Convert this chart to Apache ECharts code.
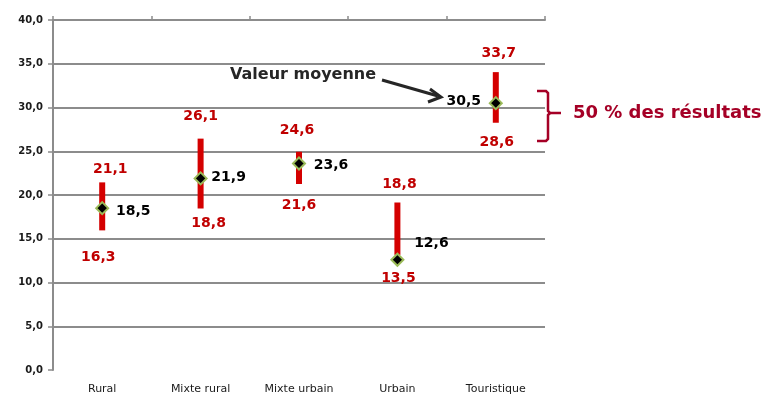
<!DOCTYPE html>
<html>
<head>
<meta charset="utf-8">
<script src="https://cdn.jsdelivr.net/npm/echarts@6/dist/echarts.min.js"></script>
<style>
	html, body { margin: 0; padding: 0; background: #fff; }
	#chart { width: 765px; height: 405px; }
</style>
</head>
<body>
<div id="chart"></div>
<script>
	// données
	var categories = ['Rural', 'Mixte rural', 'Mixte urbain', 'Urbain', 'Touristique'];
	var highValues = [21.1, 26.1, 24.6, 18.8, 33.7];
	var lowValues = [16.3, 18.8, 21.6, 13.5, 28.6];
	var meanValues = [18.5, 21.9, 23.6, 12.6, 30.5];
	var yTicks = [0, 5, 10, 15, 20, 25, 30, 35, 40];

	// décalages des étiquettes (px) comme dans le graphique Excel
	var highOffsets = [[8, -16], [0, -25], [-2, -24], [2, -21], [3, -22]];
	var lowOffsets = [[-4, 30], [8, 18], [0, 24], [1, 26], [1, 23]];
	var meanOffsets = [[31, 3], [28, -1], [32, 2], [34, -16], [-32, -2]];

	function fmt(v) {
		return v.toFixed(1).replace('.', ',');
	}

	var myChart = echarts.init(document.getElementById('chart'));

	var rangeData = [];
	var highData = [];
	var lowData = [];
	var meanData = [];
	for(var i = 0; i < categories.length; i++) {
		rangeData.push([i, lowValues[i], highValues[i]]);
		highData.push({
			value: [i, highValues[i]],
			label: { offset: highOffsets[i] }
		});
		lowData.push({
			value: [i, lowValues[i]],
			label: { offset: lowOffsets[i] }
		});
		meanData.push({
			value: [i, meanValues[i]],
			label: { offset: meanOffsets[i] }
		});
	}

	var redLabel = {
		show: true,
		position: 'inside',
		color: '#c00000',
		opacity: 1,
		fontFamily: 'DejaVu Sans',
		fontWeight: 'bold',
		fontSize: 14,
		formatter: function(p) { return fmt(p.value[1]); }
	};

	var option = {
		animation: false,
		backgroundColor: '#fff',
		grid: { left: 53, right: 220, top: 20, bottom: 35 },
		xAxis: [{
			type: 'category',
			position: 'top',
			data: categories,
			axisLine: { show: true, onZero: false, lineStyle: { color: '#8c8c8c', width: 2 } },
			axisTick: { show: true, length: 4, lineStyle: { color: '#8c8c8c', width: 1.5 } },
			axisLabel: { show: false }
		}, {
			type: 'category',
			position: 'bottom',
			data: categories,
			axisLine: { show: false, onZero: false },
			axisTick: { show: false },
			axisLabel: {
				color: '#1a1a1a',
				fontFamily: 'DejaVu Sans',
				fontSize: 11,
				margin: 14
			}
		}],
		yAxis: {
			type: 'value',
			min: yTicks[0],
			max: yTicks[yTicks.length - 1],
			interval: 5,
			axisLine: { show: true, lineStyle: { color: '#8c8c8c', width: 2 } },
			axisTick: { show: true, length: 5, lineStyle: { color: '#8c8c8c', width: 1.5 } },
			axisLabel: {
				color: '#1a1a1a',
				fontFamily: 'DejaVu Sans',
				fontWeight: 'bold',
				fontSize: 10,
				margin: 10,
				formatter: function(v) { return fmt(v); }
			},
			splitLine: { show: true, showMinLine: false, lineStyle: { color: '#8c8c8c', width: 2 } }
		},
		series: [{
			// barres rouges (50 % des résultats)
			type: 'custom',
			xAxisIndex: 0,
			data: rangeData,
			renderItem: function(params, api) {
				var p1 = api.coord([api.value(0), api.value(1)]);
				var p2 = api.coord([api.value(0), api.value(2)]);
				return {
					type: 'line',
					shape: { x1: p1[0], y1: p1[1], x2: p2[0], y2: p2[1] },
					style: { stroke: '#d40000', lineWidth: 6, lineCap: 'square' }
				};
			},
			z: 2
		}, {
			type: 'scatter',
			xAxisIndex: 0,
			symbolSize: 0,
			itemStyle: { opacity: 1 },
			data: highData,
			label: redLabel,
			z: 3
		}, {
			type: 'scatter',
			xAxisIndex: 0,
			symbolSize: 0,
			itemStyle: { opacity: 1 },
			data: lowData,
			label: redLabel,
			z: 3
		}, {
			// valeur moyenne
			type: 'scatter',
			xAxisIndex: 0,
			symbol: 'diamond',
			symbolSize: 12,
			itemStyle: { color: '#000', borderColor: '#9bbb59', borderWidth: 2, opacity: 1 },
			data: meanData,
			label: {
				show: true,
				position: 'inside',
				color: '#000',
				opacity: 1,
				fontFamily: 'DejaVu Sans',
				fontWeight: 'bold',
				fontSize: 14,
				formatter: function(p) { return fmt(p.value[1]); }
			},
			z: 4
		}],
		graphic: [{
			type: 'text',
			left: 230,
			top: 67,
			style: {
				text: 'Valeur moyenne',
				fill: '#262626',
				font: 'bold 16px "DejaVu Sans"'
			}
		}, {
			type: 'line',
			shape: { x1: 382, y1: 80, x2: 438, y2: 96 },
			style: { stroke: '#262626', lineWidth: 3 }
		}, {
			type: 'polyline',
			shape: { points: [[430, 89], [441, 97], [428, 102]] },
			style: { stroke: '#262626', lineWidth: 3, fill: null }
		}, {
			// accolade
			type: 'polyline',
			shape: { points: [[537, 91], [546, 91], [548, 93], [548, 111], [550, 113], [561, 113]] },
			style: { stroke: '#a50026', lineWidth: 2.5, fill: null }
		}, {
			type: 'polyline',
			shape: { points: [[550, 113], [548, 115], [548, 139], [546, 141], [537, 141]] },
			style: { stroke: '#a50026', lineWidth: 2.5, fill: null }
		}, {
			type: 'text',
			left: 573,
			top: 104,
			style: {
				text: '50 % des résultats',
				fill: '#a50026',
				font: 'bold 18px "DejaVu Sans"'
			}
		}]
	};

	myChart.setOption(option);
</script>
</body>
</html>
